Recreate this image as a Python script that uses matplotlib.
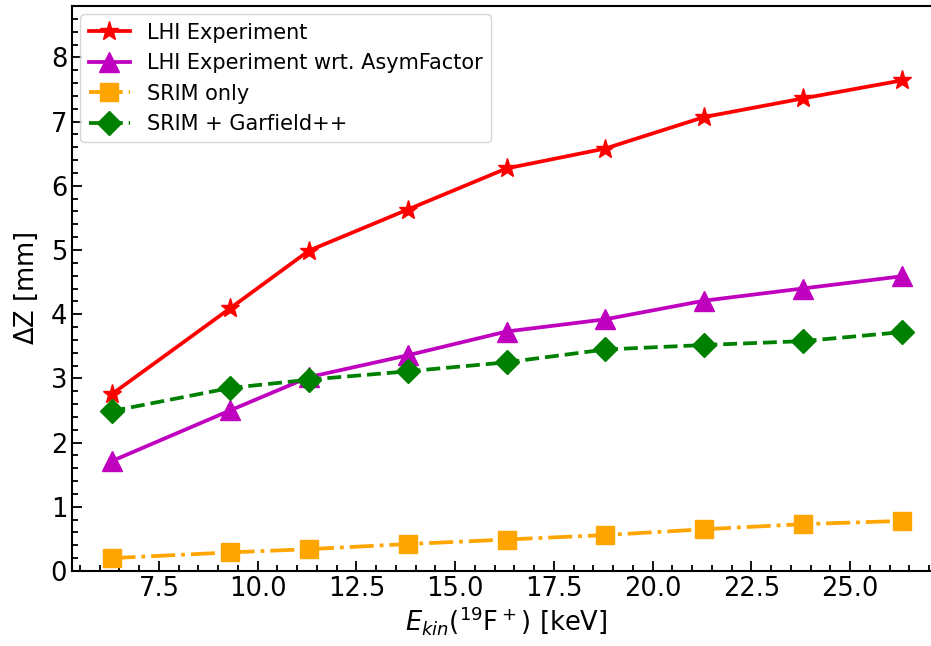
import matplotlib
matplotlib.use("Agg")
import matplotlib.pyplot as plt
from matplotlib.ticker import AutoMinorLocator

# Kinetic energy of the 19F+ ions [keV]
energy = [6.3, 9.3, 11.3, 13.8, 16.3, 18.8, 21.3, 23.8, 26.3]

# Longitudinal spread Delta Z [mm]
lhi_exp = [2.75, 4.09, 4.99, 5.63, 6.27, 6.58, 7.07, 7.36, 7.64]
lhi_asym = [1.71, 2.50, 3.02, 3.36, 3.73, 3.92, 4.21, 4.40, 4.59]
srim_only = [0.20, 0.29, 0.34, 0.42, 0.49, 0.56, 0.65, 0.73, 0.78]
srim_garfield = [2.49, 2.85, 2.98, 3.11, 3.25, 3.45, 3.52, 3.58, 3.72]

fig = plt.figure(figsize=(9.31, 6.46), dpi=100)
ax = fig.add_axes([72 / 931, 75 / 646, 869 / 931, 565 / 646])

ax.plot(energy, lhi_exp, color="red", marker="*", ms=14, lw=2.7,
        label="LHI Experiment")
ax.plot(energy, lhi_asym, color="m", marker="^", ms=14, lw=2.7,
        label="LHI Experiment wrt. AsymFactor")
ax.plot(energy, srim_only, color="orange", marker="s", ms=13, lw=2.7,
        ls="-.", label="SRIM only")
ax.plot(energy, srim_garfield, color="green", marker="D", ms=12, lw=2.7,
        ls="--", label="SRIM + Garfield++")

ax.set_xlim(5.3, 27.3)
ax.set_ylim(0, 8.8)
ax.xaxis.set_minor_locator(AutoMinorLocator())
ax.yaxis.set_minor_locator(AutoMinorLocator())
ax.tick_params(which="both", direction="in", labelsize=18.5, width=1.3)
ax.tick_params(which="major", length=7)
ax.tick_params(which="minor", length=4)
for sp in ax.spines.values():
    sp.set_linewidth(1.5)

ax.set_xlabel(r"$E_{kin}$($^{19}$F$^+$) [keV]", fontsize=18.5, labelpad=2)
ax.set_ylabel(r"$\Delta$Z [mm]", fontsize=18.5, labelpad=8)
ax.legend(loc="upper left", fontsize=15, borderaxespad=0.4)

fig.savefig("out.png", dpi=100)
